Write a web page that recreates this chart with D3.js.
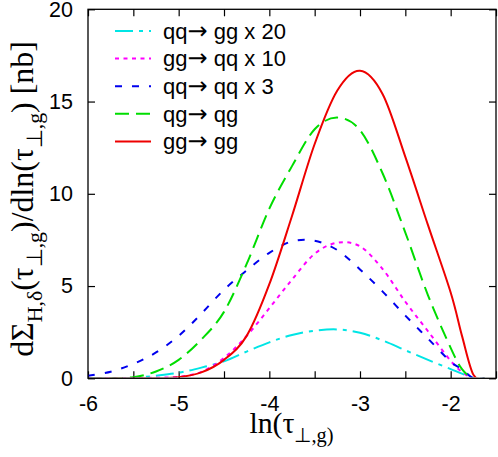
<!DOCTYPE html>
<html>
<head>
<meta charset="utf-8">
<script src="https://cdn.jsdelivr.net/npm/d3@7"></script>
<style>
  html, body { margin: 0; padding: 0; background: #fff; }
  svg { display: block; }
</style>
</head>
<body>
<div id="chart"></div>
<script>
// ---- data ----
const lnTau = [-6, -5.75, -5.5, -5.25, -5, -4.75, -4.5, -4.25, -4, -3.75, -3.5, -3.25, -3, -2.75, -2.5, -2.25, -2, -1.875, -1.75, -1.625];
const qqToGgX20 = [0, 0, 0.02, 0.14, 0.3, 0.58, 0.92, 1.45, 1.95, 2.35, 2.58, 2.65, 2.47, 2.05, 1.52, 1.0, 0.5, 0.25, 0.02, 0];
const ggToQqX10 = [0, 0, 0.01, 0.03, 0.08, 0.35, 1.1, 2.3, 3.8, 5.35, 6.75, 7.35, 7.15, 5.92, 4.15, 2.55, 0.95, 0.35, 0, 0];
const qqToQqX3  = [0.14, 0.36, 0.78, 1.4, 2.3, 3.5, 4.8, 5.85, 6.8, 7.42, 7.45, 6.95, 5.9, 4.7, 3.4, 2.15, 0.9, 0.5, 0, 0];
const qgToQg    = [0, 0, 0.06, 0.37, 1.0, 2.1, 3.6, 6.2, 9.2, 11.5, 13.5, 14.13, 13.45, 11.1, 7.9, 4.5, 1.65, 0.5, 0, 0];
const ggToGg    = [0, 0, 0.01, 0.02, 0.06, 0.32, 1.0, 2.3, 5.1, 8.8, 12.7, 15.6, 16.67, 15.4, 12.0, 8.3, 4.65, 2.3, 0.2, 0];
const legendFrom = ["qq", "gg", "qq", "qg", "gg"];
const legendTo   = [" gg x 20", " qq x 10", " qq x 3", " qg", " gg"];
const xTicks = [-6, -5.5, -5, -4.5, -4, -3.5, -3, -2.5, -2, -1.5];
const yTicks = [0, 5, 10, 15, 20];

// ---- styles ----
const seriesStyle = [
  { color: "#00e5e5", dash: "18,6,4,6" },
  { color: "#ff00ff", dash: "4,4.5" },
  { color: "#0000ee", dash: "7,10" },
  { color: "#00dd00", dash: "14,7" },
  { color: "#ee0000", dash: null }
];
const seriesValues = [qqToGgX20, ggToQqX10, qqToQqX3, qgToQg, ggToGg];

const W = 498, H = 457;
const margin = { left: 88, right: 2, top: 9.3, bottom: 457 - 378.3 };
const iw = W - margin.left - margin.right;
const ih = H - margin.top - margin.bottom;

const svg = d3.select("#chart").append("svg").attr("width", W).attr("height", H);
const g = svg.append("g").attr("transform", `translate(${margin.left},${margin.top})`);

const x = d3.scaleLinear().domain([-6, -1.5]).range([0, iw]);
const y = d3.scaleLinear().domain([0, 20]).range([ih, 0]);

const sans = "'Liberation Sans', Arial, Helvetica, sans-serif";
const serif = "'Liberation Serif', 'Times New Roman', Times, serif";
const fs = 21.5;

// axes
const fmtX = d => (Number.isInteger(d) ? String(d) : "");
const xb = g.append("g").attr("transform", `translate(0,${ih})`)
  .call(d3.axisBottom(x).tickValues(xTicks).tickSizeInner(-7).tickSizeOuter(0).tickPadding(17).tickFormat(fmtX));
const xt = g.append("g")
  .call(d3.axisTop(x).tickValues(xTicks).tickSizeInner(-7).tickSizeOuter(0).tickFormat(""));
const yl = g.append("g")
  .call(d3.axisLeft(y).tickValues(yTicks).tickSizeInner(-7).tickSizeOuter(0).tickPadding(15).tickFormat(d3.format("d")));
const yr = g.append("g").attr("transform", `translate(${iw},0)`)
  .call(d3.axisRight(y).tickValues(yTicks).tickSizeInner(-7).tickSizeOuter(0).tickFormat(""));
[xb, xt, yl, yr].forEach(a => {
  a.select(".domain").remove();
  a.selectAll("line").attr("stroke", "#000").attr("stroke-width", 1.2);
  a.selectAll("text").attr("font-family", sans).attr("font-size", fs).attr("fill", "#000");
});

// curves
const line = d3.line()
  .x((d, i) => x(lnTau[i]))
  .y(d => y(d))
  .curve(d3.curveCatmullRom.alpha(0));

svg.append("clipPath").attr("id", "plotclip")
  .append("rect").attr("x", 0).attr("y", -2).attr("width", iw).attr("height", ih + 1);

const curves = g.append("g").attr("clip-path", "url(#plotclip)");
seriesValues.forEach((vals, k) => {
  const p = curves.append("path")
    .datum(vals)
    .attr("d", line)
    .attr("fill", "none")
    .attr("stroke", seriesStyle[k].color)
    .attr("stroke-width", 2);
  if (seriesStyle[k].dash) p.attr("stroke-dasharray", seriesStyle[k].dash);
});

// frame
g.append("rect").attr("x", 0).attr("y", 0).attr("width", iw).attr("height", ih)
  .attr("fill", "none").attr("stroke", "#000").attr("stroke-width", 1.3);

// legend
const legY0 = 31 - margin.top, legDy = 27.6;
const leg = g.append("g");
legendFrom.forEach((from, k) => {
  const yy = legY0 + k * legDy;
  const l = leg.append("line")
    .attr("x1", 115 - margin.left).attr("x2", 151 - margin.left)
    .attr("y1", yy).attr("y2", yy)
    .attr("stroke", seriesStyle[k].color).attr("stroke-width", 2);
  if (seriesStyle[k].dash) l.attr("stroke-dasharray", seriesStyle[k].dash);
  const t = leg.append("text")
    .attr("x", 163 - margin.left).attr("y", yy + 7.8)
    .attr("font-family", sans).attr("font-size", 22).attr("fill", "#000");
  t.append("tspan").text(from);
  t.append("tspan").attr("font-family", "'DejaVu Sans', sans-serif").attr("font-size", 24).text("\u2192");
  t.append("tspan").text(legendTo[k]);
});

// x label
const xl = svg.append("text")
  .attr("x", 291.5).attr("y", 433)
  .attr("text-anchor", "middle")
  .attr("font-family", serif).attr("font-size", 27).attr("fill", "#000");
xl.append("tspan").text("ln(\u03c4");
xl.append("tspan").attr("font-size", 18.5).attr("dy", 8).text("\u22a5,g)");

// y label
const ylab = svg.append("text")
  .attr("transform", `translate(33,199) rotate(-90)`)
  .attr("text-anchor", "middle")
  .attr("font-family", serif).attr("font-size", 27).attr("fill", "#000");
ylab.append("tspan").text("d\u03a3");
ylab.append("tspan").attr("font-size", 18.5).attr("dy", 8).text("H,\u03b4");
ylab.append("tspan").attr("dy", -8).text("(\u03c4");
ylab.append("tspan").attr("font-size", 18.5).attr("dy", 8).text("\u22a5,g");
ylab.append("tspan").attr("dy", -8).text(")/dln(\u03c4");
ylab.append("tspan").attr("font-size", 18.5).attr("dy", 8).text("\u22a5,g");
ylab.append("tspan").attr("dy", -8).text(") [nb]");

// fit label lengths to the reference extents
function fitLength(sel, target) {
  const len = sel.node().getComputedTextLength();
  if (len > 0) {
    const s = target / len;
    sel.attr("font-size", 27 * s);
    sel.selectAll("tspan").each(function () {
      const ts = d3.select(this);
      if (ts.attr("font-size")) ts.attr("font-size", +ts.attr("font-size") * s);
      if (ts.attr("dy")) ts.attr("dy", +ts.attr("dy") * s);
    });
  }
}
fitLength(ylab, 318);
fitLength(xl, 86);
</script>
</body>
</html>
